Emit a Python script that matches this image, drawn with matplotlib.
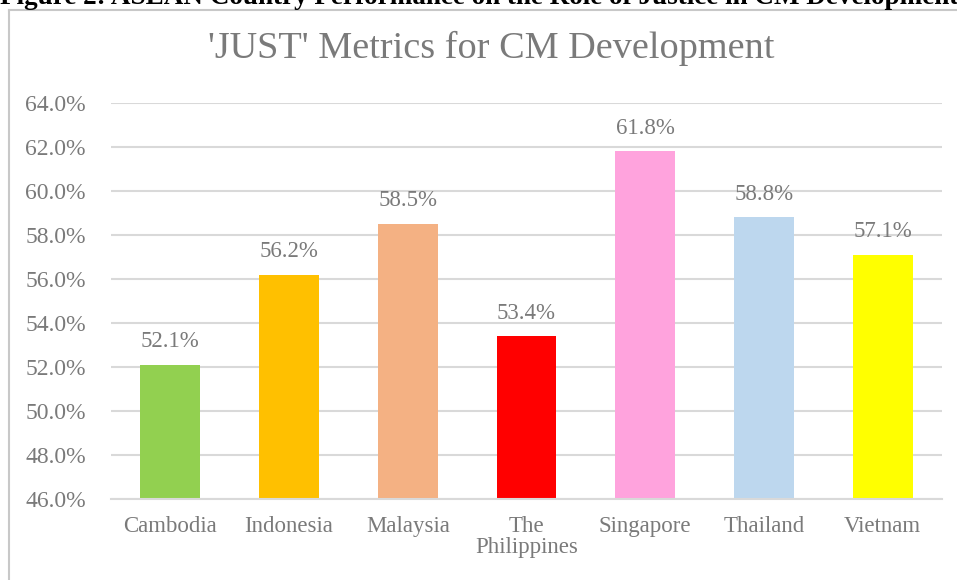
import matplotlib.pyplot as plt
from matplotlib.lines import Line2D

countries = ["Cambodia", "Indonesia", "Malaysia", "The\nPhilippines",
             "Singapore", "Thailand", "Vietnam"]
scores = [52.1, 56.2, 58.5, 53.4, 61.8, 58.8, 57.1]
colors = ["#92D050", "#FFC000", "#F4B183", "#FF0000",
          "#FFA3DD", "#BDD7EE", "#FFFF00"]
yticks = [46, 48, 50, 52, 54, 56, 58, 60, 62, 64]

plt.rcParams["font.family"] = ["Liberation Serif", "DejaVu Serif"]
gray = "#7a7a7a"

fig = plt.figure(figsize=(9.57, 5.8), dpi=100)
ax = fig.add_axes([111 / 957, 81 / 580, 831 / 957, 396 / 580])

x = range(len(countries))
bars = ax.bar(x, [s - 46 for s in scores], bottom=46, width=0.505,
              color=colors, zorder=3)

for xi, s in zip(x, scores):
    ax.annotate(f"{s:.1f}%", (xi, s), xytext=(0, 9), textcoords="offset points",
                ha="center", va="bottom", fontsize=16.5, color=gray)

ax.set_ylim(46, 64)
ax.set_xlim(-0.5, len(countries) - 0.5)
ax.set_yticks(yticks)
ax.set_yticklabels([f"{v:.1f}%" for v in yticks])
ax.set_xticks(list(x))
ax.set_xticklabels(countries, linespacing=1.05)
ax.tick_params(axis="y", length=0, pad=18, labelsize=17, labelcolor=gray)
ax.tick_params(axis="x", length=0, pad=12, labelsize=16.5, labelcolor=gray)
ax.yaxis.grid(True, color="#d9d9d9", linewidth=1.5, zorder=0)
for sp in ["top", "right", "left"]:
    ax.spines[sp].set_visible(False)
ax.spines["bottom"].set_color("#d9d9d9")
ax.spines["bottom"].set_linewidth(1.5)
ax.spines["bottom"].set_zorder(4)

fig.text(491 / 957, 1 - 48 / 580, "'JUST' Metrics for CM Development",
         ha="center", va="center", fontsize=27.5, color=gray)

# cropped caption at the very top
fig.text(479 / 957, 1 - 4 / 580,
         "Figure 2: ASEAN Country Performance on the Role of Justice in CM Development",
         ha="center", va="baseline", fontsize=19.5, fontweight="bold", color="black")

# chart frame (left and top edges visible)
fig.add_artist(Line2D([9 / 957, 9 / 957], [0, 1 - 10 / 580],
                      transform=fig.transFigure, color="#c8c8c8", linewidth=1.5))
fig.add_artist(Line2D([9 / 957, 1], [1 - 10 / 580, 1 - 10 / 580],
                      transform=fig.transFigure, color="#c8c8c8", linewidth=1.5))

fig.savefig("out.png", dpi=100)
